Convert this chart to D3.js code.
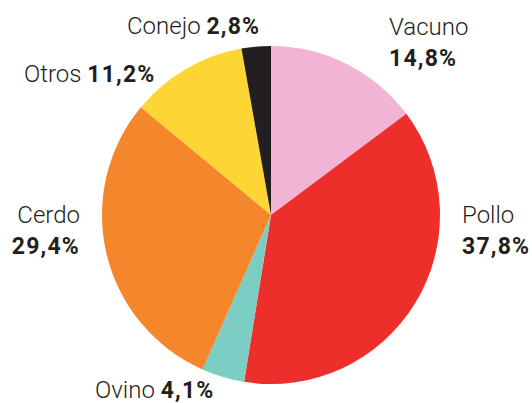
<!DOCTYPE html>
<html>
<head>
<meta charset="utf-8">
<script src="https://cdn.jsdelivr.net/npm/d3@7"></script>
<style>
  body { margin: 0; background: #fff; }
  svg text { font-family: Roboto, "DejaVu Sans", sans-serif; fill: #231f20; }
  .name { font-weight: 300; font-size: 24px; }
  .pct { font-weight: 700; font-size: 23px; letter-spacing: 1.2px; }
</style>
</head>
<body>
<div id="chart"></div>
<script>
// datos
var categories = ["Vacuno", "Pollo", "Ovino", "Cerdo", "Otros", "Conejo"];
var shares = [14.8, 37.8, 4.1, 29.4, 11.2, 2.8];
var colors = ["#f2b4d4", "#ee2e2b", "#7bcdc4", "#f4862b", "#fdd636", "#231f20"];

var width = 532, height = 403;
var cx = 271, cy = 215, radius = 169;

// label layout: [x, y, anchor, twoLines]
var labelPos = {
    "Vacuno": [389, 35, "start", true],
    "Pollo": [462, 223, "start", true],
    "Ovino": [95, 398, "start", false],
    "Cerdo": [80, 223, "end", true],
    "Otros": [24, 82, "start", false],
    "Conejo": [127, 34, "start", false]
};

var data = categories.map(function(c, i) {
    return { name: c, value: shares[i], color: colors[i] };
});

var svg = d3.select("#chart").append("svg")
    .attr("width", width)
    .attr("height", height);

var pie = d3.pie().sort(null).value(d => d.value);
var arc = d3.arc().innerRadius(0).outerRadius(radius);

var g = svg.append("g").attr("transform", "translate(" + cx + "," + cy + ")");
g.selectAll("path")
    .data(pie(data))
    .enter()
    .append("path")
    .attr("d", arc)
    .attr("fill", d => d.data.color);

var fmt = function(v) { return String(v.toFixed(1)).replace(".", ",") + "%"; };

data.forEach(function(d) {
    var p = labelPos[d.name];
    var t = svg.append("text")
        .attr("x", p[0])
        .attr("y", p[1])
        .attr("text-anchor", p[2]);
    if (p[3]) {
        t.append("tspan").attr("class", "name").text(d.name);
        t.append("tspan").attr("class", "pct")
            .attr("x", p[0]).attr("dy", 31).text(fmt(d.value));
    } else {
        t.append("tspan").attr("class", "name").text(d.name + " ");
        t.append("tspan").attr("class", "pct").text(fmt(d.value));
    }
});
</script>
</body>
</html>
